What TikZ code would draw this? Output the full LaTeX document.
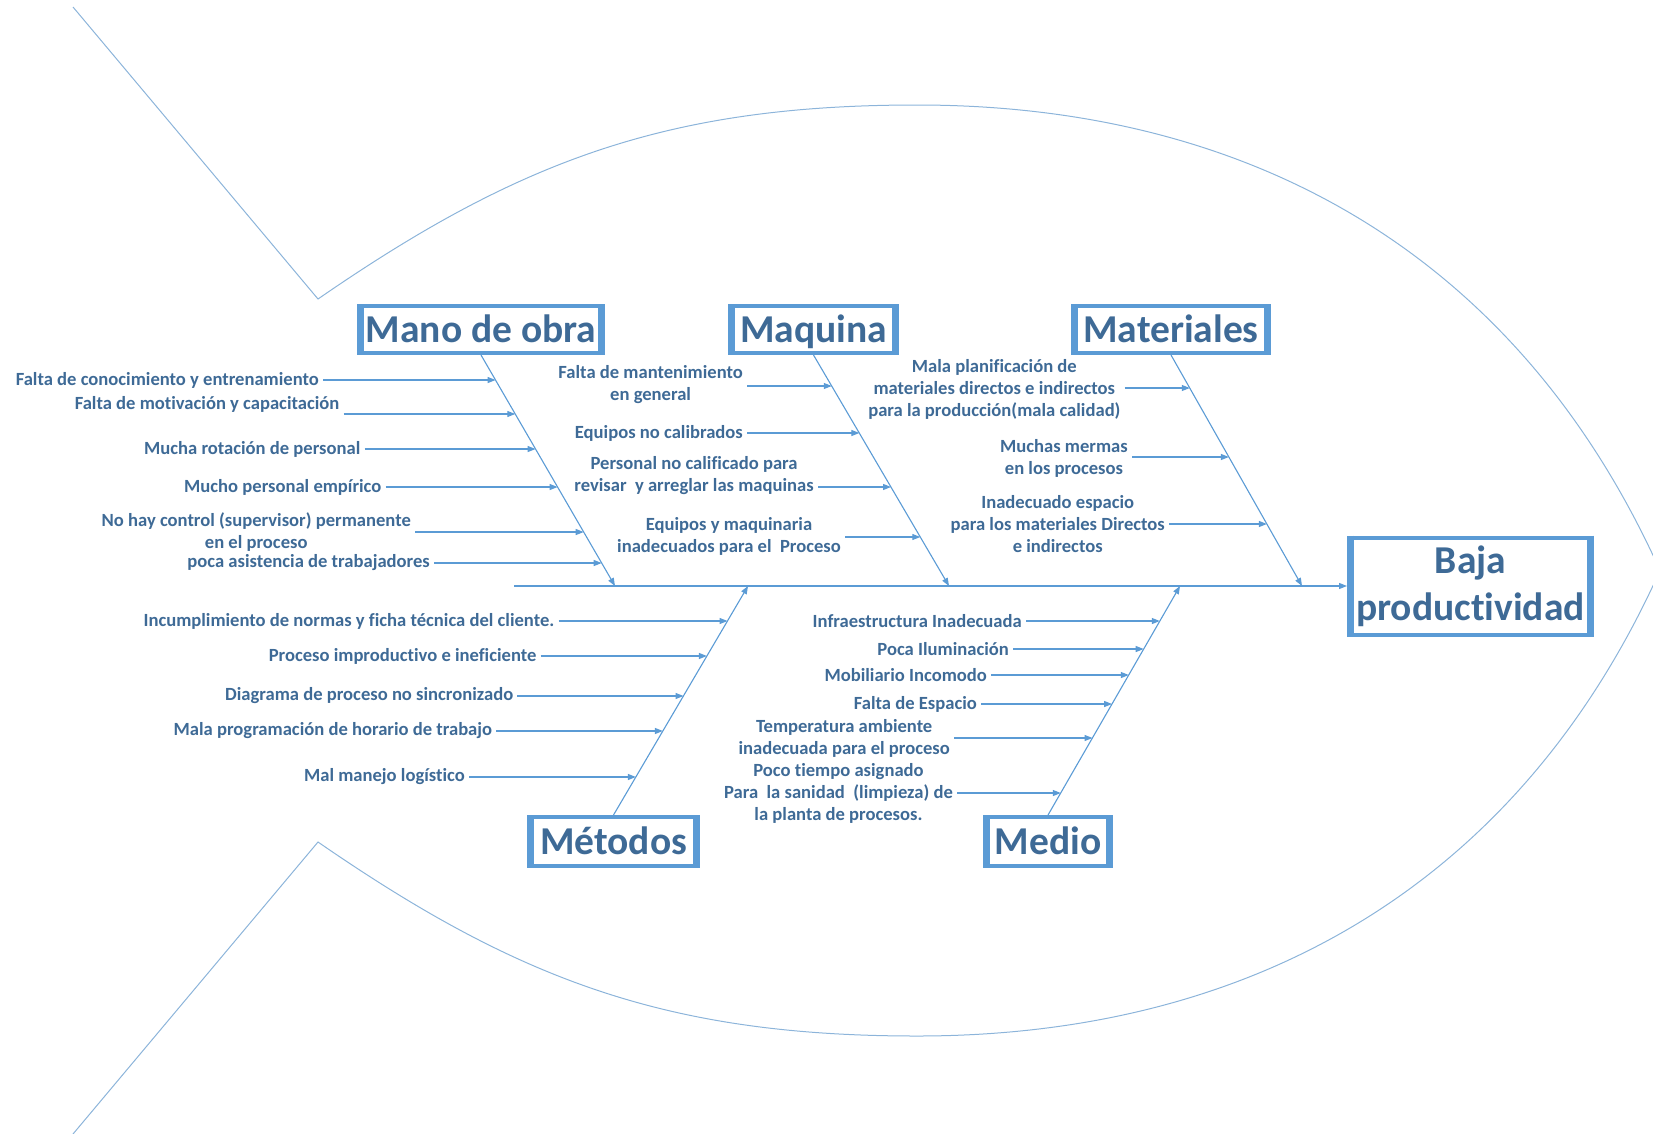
\documentclass[tikz,border=0pt]{standalone}
\usepackage{fontspec}
\setmainfont{Carlito}[Ligatures=NoCommon]
\usetikzlibrary{arrows.meta,positioning}

\definecolor{lineblue}{RGB}{91,155,213}
\definecolor{fishblue}{RGB}{140,180,218}
\definecolor{textblue}{RGB}{62,106,150}

\begin{document}
\begin{tikzpicture}[x=1pt, y=-1pt]

% Styles
\tikzstyle{boxbase} = [draw=lineblue, line width=4pt, rectangle, inner sep=0pt, text=textblue, font=\fontsize{39.5}{47}\selectfont\bfseries]
\tikzstyle{catbox}  = [boxbase, text height=29pt, text depth=4pt]
\tikzstyle{effbox}  = [boxbase, align=center]
\tikzstyle{side}    = [lineblue, line width=7pt]
\tikzstyle{cause}   = [anchor=east, inner xsep=4pt, inner ysep=0pt, align=center, text=textblue, font=\fontsize{18.6}{22}\selectfont\bfseries]
\tikzstyle{bone}    = [draw=lineblue, line width=1.1pt, -{Triangle[length=8pt,width=6pt]}]
\tikzstyle{arr}     = [draw=lineblue, line width=1.1pt, -{Triangle[length=8pt,width=6pt]}]

\useasboundingbox (0,0) rectangle (1653,1133);

% Fish outline
\draw [fishblue, line width=1pt] (73,7) -- (318,299)
  .. controls (518,161) and (667,105) .. (917,105)
  .. controls (1247,105) and (1516,251) .. (1660,570.5)
  .. controls (1516,890) and (1247,1036) .. (917,1036)
  .. controls (667,1036) and (518,980) .. (318,842) -- (73,1134);

% Category boxes
\node [catbox, minimum width=244pt, minimum height=47pt] (mano) at (481,329.5) {Mano de obra};
\node [catbox, minimum width=167pt, minimum height=47pt] (maquina) at (813.5,329.5) {Maquina};
\node [catbox, minimum width=196pt, minimum height=47pt] (materiales) at (1171,329.5) {Materiales};
\node [catbox, minimum width=169pt, minimum height=49pt] (metodos) at (613.5,841.5) {Métodos};
\node [catbox, minimum width=126pt, minimum height=49pt] (medio) at (1048,841.5) {Medio};
\node [effbox, minimum width=243pt, minimum height=97pt] (efecto) at (1470.5,586) {Baja\\productividad};

% Thicker box sides
\foreach \b in {mano,maquina,materiales,metodos,medio,efecto} {
  \draw [side] ([xshift=3.5pt]\b.north west) -- ([xshift=3.5pt]\b.south west);
  \draw [side] ([xshift=-3.5pt]\b.north east) -- ([xshift=-3.5pt]\b.south east);
}

% Spine
\coordinate (cola) at (514,586);
\coordinate (sp1) at (615,586);
\coordinate (sp2) at (949,586);
\coordinate (sp3) at (1302,586);
\coordinate (sp4) at (748,586);
\coordinate (sp5) at (1180,586);
\draw [arr] (cola) -- (efecto);

% Bones
\draw [bone] (mano.south) -- (sp1);
\draw [bone] (maquina.south) -- (sp2);
\draw [bone] (materiales.south) -- (sp3);
\draw [bone] (metodos.north) -- (sp4);
\draw [bone] (medio.north) -- (sp5);

% Mano de obra
\node [cause] (mo1) at (323,380) {Falta de conocimiento y entrenamiento};
\node [cause] (mo2) at (343.5,404) {Falta de motivación y capacitación};
\node [cause] (mo3) at (364.5,449) {Mucha rotación de personal};
\node [cause] (mo4) at (385.6,487) {Mucho personal empírico};
\node [cause] (mo5) at (415,532.5) {No hay control (supervisor) permanente\\en el proceso};
\node [cause] (mo6) at (434,563) {poca asistencia de trabajadores};
\coordinate (mo1t) at (495.6,380);
\coordinate (mo2t) at (515.3,414);
\coordinate (mo3t) at (535.6,449);
\coordinate (mo4t) at (557.6,487);
\coordinate (mo5t) at (583.7,532);
\coordinate (mo6t) at (601.7,563);
\draw [arr] (mo1.east |- mo1t) -- (mo1t);
\draw [arr] (mo2.east |- mo2t) -- (mo2t);
\draw [arr] (mo3.east |- mo3t) -- (mo3t);
\draw [arr] (mo4.east |- mo4t) -- (mo4t);
\draw [arr] (mo5.east |- mo5t) -- (mo5t);
\draw [arr] (mo6.east |- mo6t) -- (mo6t);

% Maquina
\node [cause] (mq1) at (747,385) {Falta de mantenimiento\\en general};
\node [cause] (mq2) at (747,433) {Equipos no calibrados};
\node [cause] (mq3) at (818,476) {Personal no calificado para\\revisar\ \ y arreglar las maquinas};
\node [cause] (mq4) at (845,536.5) {Equipos y maquinaria\\inadecuados para el\ \ Proceso};
\coordinate (mq1t) at (831.8,386);
\coordinate (mq2t) at (859.4,433);
\coordinate (mq3t) at (891,487);
\coordinate (mq4t) at (920.3,537);
\draw [arr] (mq1.east |- mq1t) -- (mq1t);
\draw [arr] (mq2.east |- mq2t) -- (mq2t);
\draw [arr] (mq3.east |- mq3t) -- (mq3t);
\draw [arr] (mq4.east |- mq4t) -- (mq4t);

% Materiales
\node [cause] (mt1) at (1124.6,389.5) {Mala planificación de\\materiales directos e indirectos\\para la producción(mala calidad)};
\node [cause] (mt2) at (1132,458.5) {Muchas mermas\\en los procesos};
\node [cause] (mt3) at (1169,524.5) {Inadecuado espacio\\para los materiales Directos\\e indirectos};
\coordinate (mt1t) at (1189.8,388);
\coordinate (mt2t) at (1228.9,457);
\coordinate (mt3t) at (1266.9,524);
\draw [arr] (mt1.east |- mt1t) -- (mt1t);
\draw [arr] (mt2.east |- mt2t) -- (mt2t);
\draw [arr] (mt3.east |- mt3t) -- (mt3t);

% Metodos
\node [cause] (me1) at (558.5,621) {Incumplimiento de normas y ficha técnica del cliente.};
\node [cause] (me2) at (540.6,656) {Proceso improductivo e ineficiente};
\node [cause] (me3) at (517.4,696) {Diagrama de proceso no sincronizado};
\node [cause] (me4) at (496.3,731) {Mala programación de horario de trabajo};
\node [cause] (me5) at (469,777) {Mal manejo logístico};
\coordinate (me1t) at (727.5,621);
\coordinate (me2t) at (706.9,656);
\coordinate (me3t) at (683.5,696);
\coordinate (me4t) at (662.9,731);
\coordinate (me5t) at (635.9,777);
\draw [arr] (me1.east |- me1t) -- (me1t);
\draw [arr] (me2.east |- me2t) -- (me2t);
\draw [arr] (me3.east |- me3t) -- (me3t);
\draw [arr] (me4.east |- me4t) -- (me4t);
\draw [arr] (me5.east |- me5t) -- (me5t);

% Medio
\node [cause] (md1) at (1026,621) {Infraestructura Inadecuada};
\node [cause] (md2) at (1013,649) {Poca Iluminación};
\node [cause] (md3) at (991,675) {Mobiliario Incomodo};
\node [cause] (md4) at (981,704) {Falta de Espacio};
\node [cause] (md5) at (954,738) {Temperatura ambiente\\inadecuada para el proceso};
\node [cause] (md6) at (957,793) {Poco tiempo asignado\\Para\ \ la sanidad\ \ (limpieza) de\\la planta de procesos.};
\coordinate (md1t) at (1159.8,621);
\coordinate (md2t) at (1143.7,649);
\coordinate (md3t) at (1128.8,675);
\coordinate (md4t) at (1112.1,704);
\coordinate (md5t) at (1092.5,738);
\coordinate (md6t) at (1060.8,793);
\draw [arr] (md1.east |- md1t) -- (md1t);
\draw [arr] (md2.east |- md2t) -- (md2t);
\draw [arr] (md3.east |- md3t) -- (md3t);
\draw [arr] (md4.east |- md4t) -- (md4t);
\draw [arr] (md5.east |- md5t) -- (md5t);
\draw [arr] (md6.east |- md6t) -- (md6t);

\end{tikzpicture}
\end{document}
